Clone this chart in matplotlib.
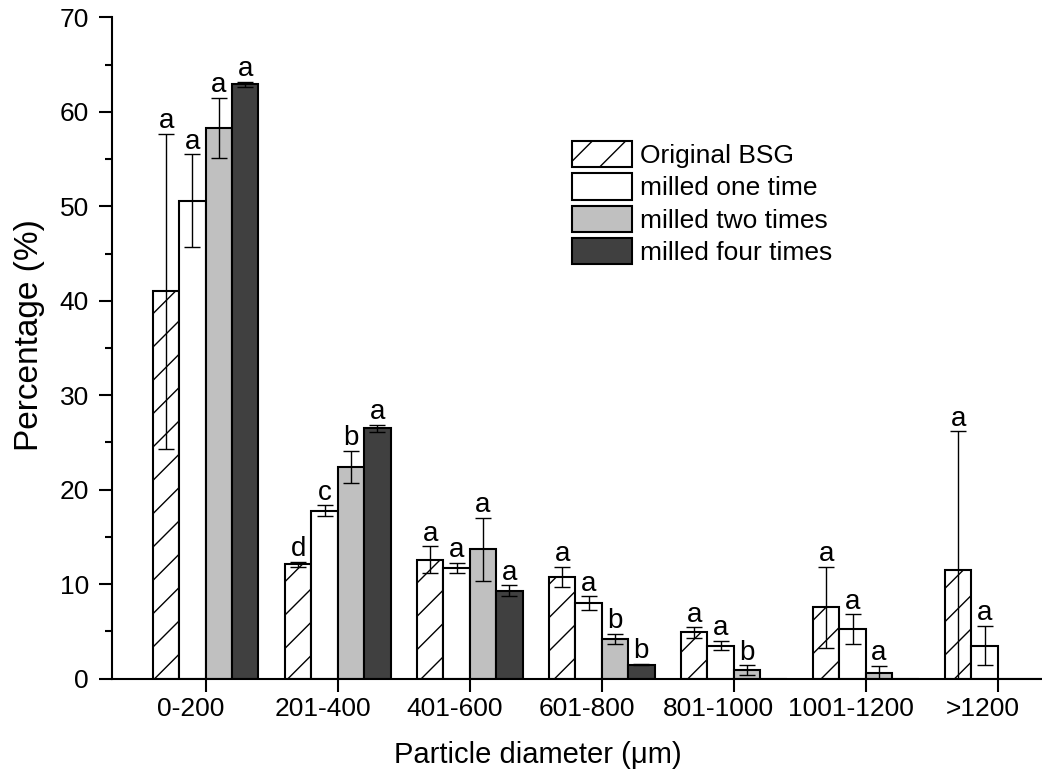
import numpy as np
import matplotlib
matplotlib.use("Agg")
import matplotlib.pyplot as plt
from matplotlib.transforms import ScaledTranslation
from matplotlib.ticker import MultipleLocator

plt.rcParams['font.family'] = ['Liberation Sans', 'DejaVu Sans']
plt.rcParams['hatch.linewidth'] = 1.0
plt.rcParams['hatch.color'] = 'black'

nan = np.nan
categories = ['0-200', '201-400', '401-600', '601-800', '801-1000', '1001-1200', '>1200']
series_names = ['Original BSG', 'milled one time', 'milled two times', 'milled four times']

original = [41.0, 12.1, 12.6, 10.8, 4.9, 7.55, 11.5]
original_err = [16.7, 0.3, 1.4, 1.05, 0.55, 4.3, 14.7]
original_sig = ['a', 'd', 'a', 'a', 'a', 'a', 'a']

milled_one = [50.6, 17.8, 11.7, 8.0, 3.5, 5.25, 3.5]
milled_one_err = [4.9, 0.55, 0.55, 0.7, 0.5, 1.55, 2.1]
milled_one_sig = ['a', 'c', 'a', 'a', 'a', 'a', 'a']

milled_two = [58.3, 22.4, 13.7, 4.2, 0.9, 0.6, nan]
milled_two_err = [3.2, 1.7, 3.35, 0.55, 0.5, 0.78, nan]
milled_two_sig = ['a', 'b', 'a', 'b', 'b', 'a', '']

milled_four = [62.9, 26.5, 9.3, 1.5, nan, nan, nan]
milled_four_err = [0.3, 0.35, 0.6, 0.05, nan, nan, nan]
milled_four_sig = ['a', 'a', 'a', 'b', '', '', '']

values = [original, milled_one, milled_two, milled_four]
errors = [original_err, milled_one_err, milled_two_err, milled_four_err]
letters = [original_sig, milled_one_sig, milled_two_sig, milled_four_sig]
styles = [dict(facecolor='white', hatch='/'),
          dict(facecolor='white'),
          dict(facecolor='#c0c0c0'),
          dict(facecolor='#404040')]

W, H = 1042, 773
fig = plt.figure(figsize=(W / 100, H / 100), dpi=100)
ax = fig.add_axes([111.7 / W, 1 - 678.7 / H, 1 - 111.7 / W, (678.7 - 17.3) / H])

x = np.arange(len(categories))
width = 0.2
offsets = [-0.3, -0.1, 0.1, 0.3]

for vals, errs, sig, off, st, name in zip(values, errors, letters, offsets, styles, series_names):
    v = np.array(vals, dtype=float)
    e = np.array(errs, dtype=float)
    ax.bar(x + off, np.nan_to_num(v), width, edgecolor='black', linewidth=1.5,
           label=name, zorder=2, **st)
    ok = ~np.isnan(v)
    ax.errorbar(x[ok] + off, v[ok], yerr=e[ok], fmt='none', ecolor='black',
                elinewidth=1.0, capsize=6, capthick=1.0, zorder=3)
    for xi, vi, ei, s in zip(x, v, e, sig):
        if s:
            ax.annotate(s, (xi + off, vi + ei), xytext=(0, 4), textcoords='offset points',
                        ha='center', va='baseline', fontsize=20, zorder=4)

ax.set_xlim(-0.712, 6.335)
ax.set_ylim(0, 70)
ax.set_xticks(x)
ax.set_xticklabels(categories)
ax.yaxis.set_major_locator(MultipleLocator(10))
ax.yaxis.set_minor_locator(MultipleLocator(5))

for side in ['top', 'right']:
    ax.spines[side].set_visible(False)
for side in ['left', 'bottom']:
    ax.spines[side].set_linewidth(1.5)

ax.tick_params(axis='both', which='major', direction='out', length=9.5, width=1.5,
               labelsize=19)
ax.tick_params(axis='y', which='minor', direction='out', length=5, width=1.5)
ax.tick_params(axis='x', which='major', pad=4)
ax.tick_params(axis='y', which='major', pad=7)

shift = ScaledTranslation(-15 / 100, 0, fig.dpi_scale_trans)
for lbl in ax.get_xticklabels():
    lbl.set_transform(lbl.get_transform() + shift)

ax.set_ylabel('Percentage (%)', fontsize=24)
ax.yaxis.set_label_coords(-0.072, 0.52)
fig.text(538 / W, 9.7 / H, 'Particle diameter (μm)', fontsize=21,
         ha='center', va='baseline')

leg = ax.legend(loc='upper left', bbox_to_anchor=(571.7 / W, 1 - 141 / H),
                bbox_transform=fig.transFigure, frameon=False, fontsize=19,
                borderpad=0, borderaxespad=0, handlelength=2.27, handleheight=1.15,
                labelspacing=0.2, handletextpad=0.3)

fig.savefig('out.png', dpi=100, facecolor='white')
